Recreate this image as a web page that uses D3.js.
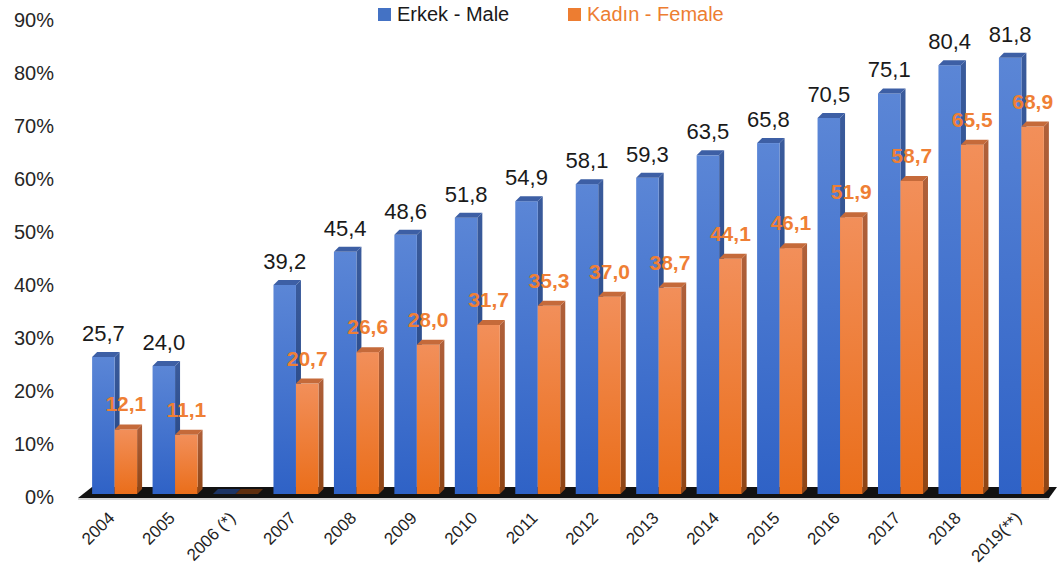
<!DOCTYPE html>
<html><head><meta charset="utf-8">
<script src="https://cdn.jsdelivr.net/npm/d3@7"></script>
<style>body{margin:0;background:#fff}svg{display:block;font-family:"Liberation Sans",Arial,sans-serif}</style>
</head><body><svg id="c" width="1057" height="582"></svg>
<script>
const categories = ["2004","2005","2006 (*)","2007","2008","2009","2010","2011","2012","2013","2014","2015","2016","2017","2018","2019(**)"];
const maleValues = [25.7,24.0,0,39.2,45.4,48.6,51.8,54.9,58.1,59.3,63.5,65.8,70.5,75.1,80.4,81.8];
const femaleValues = [12.1,11.1,0,20.7,26.6,28.0,31.7,35.3,37.0,38.7,44.1,46.1,51.9,58.7,65.5,68.9];
const maleLabels = ["25,7","24,0","","39,2","45,4","48,6","51,8","54,9","58,1","59,3","63,5","65,8","70,5","75,1","80,4","81,8"];
const femaleLabels = ["12,1","11,1","","20,7","26,6","28,0","31,7","35,3","37,0","38,7","44,1","46,1","51,9","58,7","65,5","68,9"];
const yTicks = [0,10,20,30,40,50,60,70,80,90];
const seriesNames = ["Erkek - Male","Kadın - Female"];

const svg = d3.select("#c");
const defs = svg.append("defs");
function grad(id, c1, c2){
  const g = defs.append("linearGradient").attr("id",id).attr("x1",0).attr("y1",0).attr("x2",0).attr("y2",1);
  g.append("stop").attr("offset","0%").attr("stop-color",c1);
  g.append("stop").attr("offset","100%").attr("stop-color",c2);
}
grad("gm","#5b86d6","#2f62c6");
grad("gf","#f28f5a","#ea6e1a");
grad("gms","#3a5b9c","#22417c");
grad("gfs","#b0603a","#8e4515");

const x = d3.scaleBand().domain(categories).range([77,1059]).paddingInner(0.256).paddingOuter(0.25);
const xs = d3.scaleBand().domain(["m","f"]).range([0,x.bandwidth()]);
const yBar = d3.scaleLinear().domain([0,90]).range([494,14]);
const yAxis = d3.scaleLinear().domain([0,90]).range([497,20]);
const dx = 5, dy = 5;

// floor
const fl = yBar(0);
svg.append("polygon")
  .attr("points",[[78,fl+4],[1049,fl+4],[1057,fl-7],[92,fl-7]].map(p=>p.join(",")).join(" "))
  .attr("fill","#121212");
svg.append("line").attr("x1",78).attr("x2",1049).attr("y1",fl+5).attr("y2",fl+5).attr("stroke","#c8c8c8").attr("stroke-width",1.5);

// y axis labels
svg.append("g").selectAll("text").data(yTicks).join("text")
  .attr("x",54).attr("y",d=>yAxis(d)).attr("dy","0.35em").attr("text-anchor","end")
  .attr("font-size",20).attr("fill","#262626").text(d=>d+"%");

function bar(g, x0, w, v, front, side, top){
  const y0 = yBar(0), y1 = yBar(v);
  g.append("polygon").attr("points",[[x0+w,y1],[x0+w+dx,y1-dy],[x0+w+dx,y0-dy],[x0+w,y0]].map(p=>p.join(",")).join(" ")).attr("fill",side);
  if (v>0) g.append("rect").attr("x",x0).attr("y",y1).attr("width",w).attr("height",y0-y1).attr("fill",front);
  g.append("polygon").attr("points",[[x0,y1],[x0+dx,y1-dy],[x0+w+dx,y1-dy],[x0+w,y1]].map(p=>p.join(",")).join(" ")).attr("fill",top);
}

const gBars = svg.append("g");
categories.forEach((c,i)=>{
  const g = gBars.append("g");
  const zero = maleValues[i]===0;
  bar(g, x(c)+xs("m"), xs.bandwidth(), maleValues[i], "url(#gm)", "url(#gms)", zero?"#1d3464":"#3d5fa5");
  bar(g, x(c)+xs("f"), xs.bandwidth(), femaleValues[i], "url(#gf)", "url(#gfs)", zero?"#5e2e0e":"#c56a3a");
});

// data labels
svg.append("g").selectAll("text").data(categories).join("text")
  .attr("x",c=>x(c)+xs("m")+xs.bandwidth()/2).attr("y",(c,i)=>yBar(maleValues[i])-16)
  .attr("text-anchor","middle").attr("font-size",22).attr("fill","#1a1a1a")
  .text((c,i)=>maleLabels[i]);
svg.append("g").selectAll("text").data(categories).join("text")
  .attr("x",c=>x(c)+xs("f")+xs.bandwidth()/2).attr("y",(c,i)=>yBar(femaleValues[i])-18)
  .attr("text-anchor","middle").attr("font-size",21).attr("font-weight","bold").attr("fill","#ef7f35")
  .text((c,i)=>femaleLabels[i]);

// x labels
svg.append("g").selectAll("text").data(categories).join("text")
  .attr("transform",c=>`translate(${x(c)+x.bandwidth()/2+1},${519}) rotate(-45)`)
  .attr("text-anchor","end").attr("font-size",17).attr("fill","#1f1f1f").text(c=>c);

// legend
const leg = svg.append("g");
const legX = [378,568], legCol = ["#4472c4","#ed7d31"], legTxt = ["#1a1a1a","#ed7d31"];
seriesNames.forEach((n,i)=>{
  leg.append("rect").attr("x",legX[i]).attr("y",8).attr("width",13).attr("height",13).attr("fill",legCol[i]);
  leg.append("text").attr("x",legX[i]+19).attr("y",21).attr("font-size",20).attr("fill",legTxt[i]).text(n);
});
</script></body></html>
